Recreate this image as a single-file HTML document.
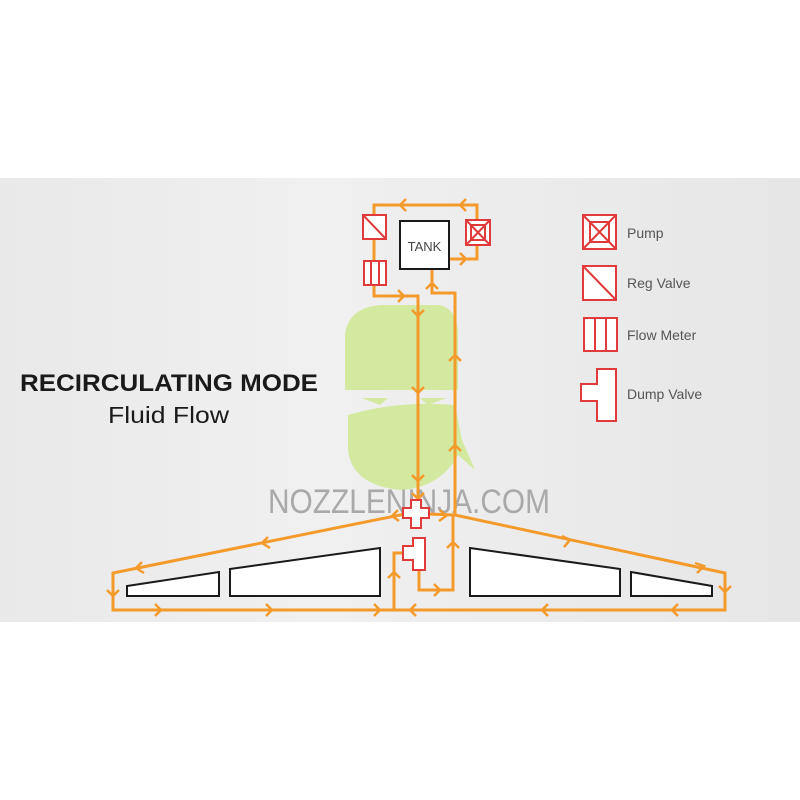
<!DOCTYPE html>
<html><head><meta charset="utf-8"><style>
html,body{margin:0;padding:0;background:#fff}
svg{display:block}
</style></head><body>
<svg width="800" height="800" viewBox="0 0 800 800" xmlns="http://www.w3.org/2000/svg">
<defs>
<linearGradient id="bg" x1="0" y1="0" x2="1" y2="0">
<stop offset="0" stop-color="#e9e9e9"/><stop offset="0.4" stop-color="#f0f0f0"/><stop offset="1" stop-color="#e6e6e6"/>
</linearGradient>
</defs>
<rect x="0" y="0" width="800" height="800" fill="#fff"/>
<rect x="0" y="178" width="800" height="444" fill="url(#bg)"/>

<!-- ninja -->
<g fill="#d3e9a0">
<path d="M345 390 L345 335 Q348 308 380 305 L440 305 Q458 310 458 335 L458 390 Z"/>
<path d="M348 415 Q400 400 455 405 L462 440 L475 470 L458 455 Q440 488 400 490 Q352 485 348 450 Z"/>
<path d="M362 398 L388 398 L380 405 Z"/><path d="M420 398 L446 398 L428 405 Z"/>
</g>

<!-- watermark -->
<text x="268" y="513" font-family="Liberation Sans, sans-serif" font-size="34" fill="#a9a9a9" textLength="282" lengthAdjust="spacingAndGlyphs">NOZZLENINJA.COM</text>

<!-- pipes -->
<g fill="none" stroke="#f39a2b" stroke-width="3" stroke-linejoin="miter">
<polyline points="374,215 374,205 477,205 477,220"/>
<line x1="374" y1="239" x2="374" y2="260"/>
<polyline points="374,285 374,296 418,296 418,505"/>
<polyline points="449,259 477,259 477,245"/>
<polyline points="432,270 432,293 455,293 455,515"/>
<polyline points="405,514 113,573 113,610 725,610 725,573 455,515 428,514"/>
<polyline points="394,610 394,553 403,553"/>
<polyline points="419,570 419,590 453,590 453,515"/>
<!-- chevrons -->
<g stroke-width="2.5">
<polyline points="406,199 400,205 406,211"/>
<polyline points="466,199 460,205 466,211"/>
<polyline points="368,224 374,230 380,224"/>
<polyline points="398,290 404,296 398,302"/>
<polyline points="460,253 466,259 460,265"/>
<polyline points="426,289 432,283 438,289"/>
<polyline points="412,310 418,316 424,310"/>
<polyline points="412,387 418,393 424,387"/>
<polyline points="412,475 418,481 424,475"/>
<polyline points="449,361 455,355 461,361"/>
<polyline points="449,451 455,445 461,451"/>
<polyline points="268,537 262,543 270,548"/>
<polyline points="142,562 136,568 144,573"/>
<polyline points="107,590 113,596 119,590"/>
<polyline points="155,604 161,610 155,616"/>
<polyline points="266,604 272,610 266,616"/>
<polyline points="374,604 380,610 374,616"/>
<polyline points="416,604 410,610 416,616"/>
<polyline points="548,604 542,610 548,616"/>
<polyline points="678,604 672,610 678,616"/>
<polyline points="719,586 725,592 731,586"/>
<polyline points="562,536 570,540 564,547"/>
<polyline points="695,563 704,566 697,573"/>
<polyline points="388,578 394,572 400,578"/>
<polyline points="434,584 440,590 434,596"/>
<polyline points="447,548 453,542 459,548"/>
<polyline points="398,510 392,516 399,521"/>
<polyline points="440,510 446,516 439,521"/>
<polyline points="412,493 418,499 424,493"/>
</g>
</g>

<!-- wing boxes -->
<g fill="#fff" stroke="#1a1a1a" stroke-width="2">
<polygon points="127,586 219,572 219,596 127,596"/>
<polygon points="230,569 380,548 380,596 230,596"/>
<polygon points="470,548 620,569 620,596 470,596"/>
<polygon points="631,572 712,586 712,596 631,596"/>
</g>

<!-- tank -->
<rect x="400" y="221" width="49" height="48" fill="#fff" stroke="#1a1a1a" stroke-width="2"/>
<text x="424.5" y="251" text-anchor="middle" font-family="Liberation Sans, sans-serif" font-size="13" fill="#444">TANK</text>

<!-- red components -->
<g fill="#fff" stroke="#e03a3a" stroke-width="2">
<rect x="363" y="215" width="23" height="24"/><line x1="363" y1="215" x2="386" y2="239"/>
<rect x="364" y="261" width="22" height="24"/><line x1="371" y1="261" x2="371" y2="285"/><line x1="379" y1="261" x2="379" y2="285"/>
<rect x="466" y="220" width="24" height="25"/><rect x="471" y="225" width="14" height="15"/><line x1="466" y1="220" x2="490" y2="245"/><line x1="490" y1="220" x2="466" y2="245"/>
<polygon points="411,500 421,500 421,508 429,508 429,518 421,518 421,528 411,528 411,518 403,518 403,508 411,508"/>
<polygon points="413,538 425,538 425,570 413,570 413,560 403,560 403,546 413,546"/>
<!-- legend -->
<rect x="583" y="215" width="33" height="34"/><rect x="590" y="222" width="19" height="20"/><line x1="583" y1="215" x2="616" y2="249"/><line x1="616" y1="215" x2="583" y2="249"/>
<rect x="583" y="266" width="33" height="34"/><line x1="583" y1="266" x2="616" y2="300"/>
<rect x="584" y="318" width="33" height="33"/><line x1="595" y1="318" x2="595" y2="351"/><line x1="606" y1="318" x2="606" y2="351"/>
<polygon points="597,369 616,369 616,421 597,421 597,401 581,401 581,384 597,384"/>
</g>
<g font-family="Liberation Sans, sans-serif" font-size="14" fill="#555">
<text x="627" y="238">Pump</text>
<text x="627" y="288">Reg Valve</text>
<text x="627" y="340">Flow Meter</text>
<text x="627" y="399">Dump Valve</text>
</g>

<text x="20" y="391" font-family="Liberation Sans, sans-serif" font-weight="bold" font-size="24" fill="#1a1a1a" textLength="298" lengthAdjust="spacingAndGlyphs">RECIRCULATING MODE</text>
<text x="108" y="423" font-family="Liberation Sans, sans-serif" font-size="23" fill="#1a1a1a" textLength="121" lengthAdjust="spacingAndGlyphs">Fluid Flow</text>
</svg>
</body></html>
